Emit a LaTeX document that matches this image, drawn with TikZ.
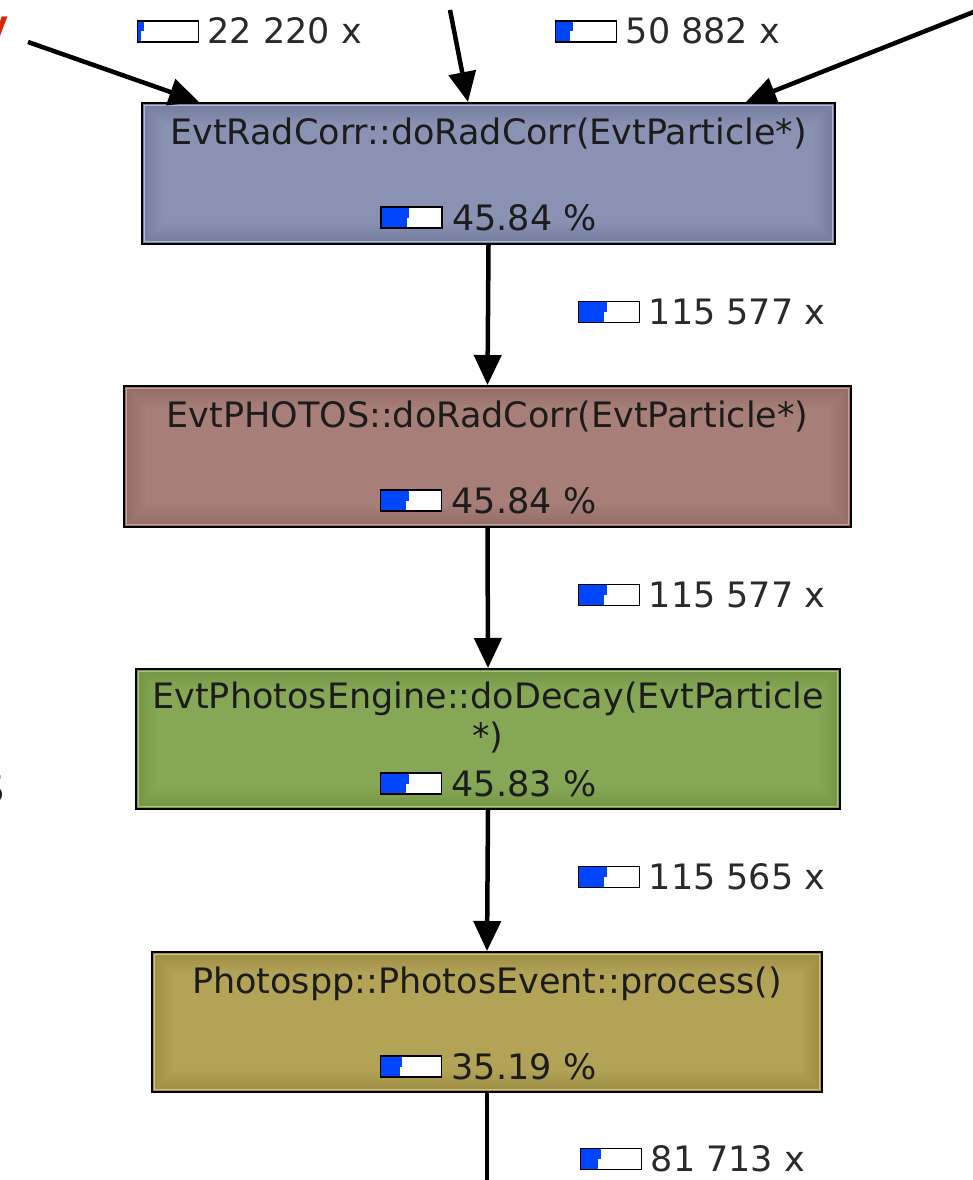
\documentclass[tikz,border=0pt]{standalone}
\usepackage{fontspec}
\setmainfont{DejaVu Sans}
\usetikzlibrary{arrows.meta,calc}
\definecolor{txt}{HTML}{1C1C1C}
\definecolor{lbl}{HTML}{2A2A2A}
\definecolor{redc}{HTML}{D2280C}
\definecolor{barblue}{HTML}{0046FF}
\definecolor{cA}{HTML}{8A93B3}\definecolor{eA}{HTML}{7880A1}\definecolor{lA}{HTML}{B3BAD3}
\definecolor{cB}{HTML}{A87F79}\definecolor{eB}{HTML}{966E68}\definecolor{lB}{HTML}{C8A49E}
\definecolor{cC}{HTML}{87A957}\definecolor{eC}{HTML}{769847}\definecolor{lC}{HTML}{A8C67E}
\definecolor{cD}{HTML}{B4A458}\definecolor{eD}{HTML}{A19147}\definecolor{lD}{HTML}{D3C47D}
\tikzset{
  every node/.style={font=\fontsize{35}{41}\selectfont, text=txt},
  fnbox/.style n args={3}{draw=black, line width=2pt, rectangle, inner sep=0pt, fill=#2,
    path picture={
      \foreach \d/\m in {3/0,6/16,9/32,12/48,15/64,18/80,21/95}{
        \fill[#1!\m!#2] ($(path picture bounding box.south west)+(\d pt,\d pt)$) rectangle ($(path picture bounding box.north east)+(-\d pt,-\d pt)$);
      }
      \draw[#3, line width=1pt] ($(path picture bounding box.south west)+(2.5pt,2.5pt)$) rectangle ($(path picture bounding box.north east)+(-2.5pt,-2.5pt)$);
    }},
  cbar/.style={draw=black, line width=1.4pt, fill=white, rectangle, inner sep=0pt,
    minimum width=61pt, minimum height=21pt,
    path picture={
      \fill[barblue] (path picture bounding box.north west) rectangle ($(path picture bounding box.west)!#1!(path picture bounding box.east)$);
      \fill[barblue] (path picture bounding box.west) rectangle ($(path picture bounding box.south west)!#1-0.04!(path picture bounding box.south east)$);
    }},
  cnt/.style={anchor=base west, text=lbl},
  call/.style={line width=4.5pt, -{Triangle[length=30pt,width=27pt]}},
  plain/.style={line width=4.5pt}
}
\begin{document}
\begin{tikzpicture}[x=1pt,y=-1pt]
\useasboundingbox (0,0) rectangle (972,1180);

% cut-off letters at the left edge
\node[anchor=base east, text=redc, font=\fontsize{34}{40}\selectfont\bfseries, inner sep=0pt] (ry) at (9,36) {y};
\node[anchor=base east, font=\fontsize{38}{44}\selectfont, inner sep=0pt] (ls) at (5,802) {S};

% function boxes
\node[fnbox={cA}{eA}{lA}, minimum width=693pt, minimum height=141pt] (b1) at (488.5,173.5) {};
\node[fnbox={cB}{eB}{lB}, minimum width=727pt, minimum height=141pt] (b2) at (487.5,456.5) {};
\node[fnbox={cC}{eC}{lC}, minimum width=704pt, minimum height=140pt] (b3) at (488,739) {};
\node[fnbox={cD}{eD}{lD}, minimum width=670pt, minimum height=140pt] (b4) at (487,1022) {};

% titles
\node[anchor=base] (t1) at ($(b1.north)+(0,42)$) {EvtRadCorr::doRadCorr(EvtParticle*)};
\node[anchor=base] (t2) at ($(b2.north)+(0,42)$) {EvtPHOTOS::doRadCorr(EvtParticle*)};
\node[anchor=base] (t3a) at ($(b3.north)+(0,40)$) {EvtPhotosEngine::doDecay(EvtParticle};
\node[anchor=base] (t3b) at ($(b3.north)+(0,80)$) {*)};
\node[anchor=base] (t4) at ($(b4.north)+(0,42)$) {Photospp::PhotosEvent::process()};

% cost bars in boxes
\node[cbar=0.46] (p1) at ($(b1.north)+(-77,115.5)$) {};
\node[anchor=base west] (p1t) at ($(p1.east)+(6,12.5)$) {45.84 \%};
\node[cbar=0.46] (p2) at ($(b2.north)+(-76.5,115.5)$) {};
\node[anchor=base west] (p2t) at ($(p2.east)+(6,12.5)$) {45.84 \%};
\node[cbar=0.46] (p3) at ($(b3.north)+(-77,115.5)$) {};
\node[anchor=base west] (p3t) at ($(p3.east)+(6,12.5)$) {45.83 \%};
\node[cbar=0.36] (p4) at ($(b4.north)+(-76,115.5)$) {};
\node[anchor=base west] (p4t) at ($(p4.east)+(6,12.5)$) {35.19 \%};

% incoming calls
\coordinate (inA) at (28,42);
\coordinate (inB) at (450,10);
\coordinate (inC) at (976,11);
\draw[call] (inA) -- ($(b1.north west)+(58,0)$);
\draw[call] (inB) -- ($(b1.north west)+(327,0)$);
\draw[call] (inC) -- ($(b1.north west)+(605,0)$);

% chain of calls
\draw[call] (b1.south) -- (b2.north);
\draw[call] (b2.south) -- (b3.north);
\draw[call] (b3.south) -- (b4.north);
\coordinate (outD) at (487,1186);
\draw[plain] (b4.south) -- (outD);

% call counts
\node[cbar=0.1] (c1) at (168,31.5) {};
\node[cnt] (c1t) at ($(c1.east)+(5,12.5)$) {22 220 x};
\node[cbar=0.28] (c2) at (586,31.5) {};
\node[cnt] (c2t) at ($(c2.east)+(5,12.5)$) {50 882 x};
\node[cbar=0.46] (c3) at (609,312) {};
\node[cnt] (c3t) at ($(c3.east)+(5,12.5)$) {115 577 x};
\node[cbar=0.46] (c4) at (609,595) {};
\node[cnt] (c4t) at ($(c4.east)+(5,12.5)$) {115 577 x};
\node[cbar=0.46] (c5) at (609,877) {};
\node[cnt] (c5t) at ($(c5.east)+(5,12.5)$) {115 565 x};
\node[cbar=0.33] (c6) at (611,1159) {};
\node[cnt] (c6t) at ($(c6.east)+(5,12.5)$) {81 713 x};
\end{tikzpicture}
\end{document}
